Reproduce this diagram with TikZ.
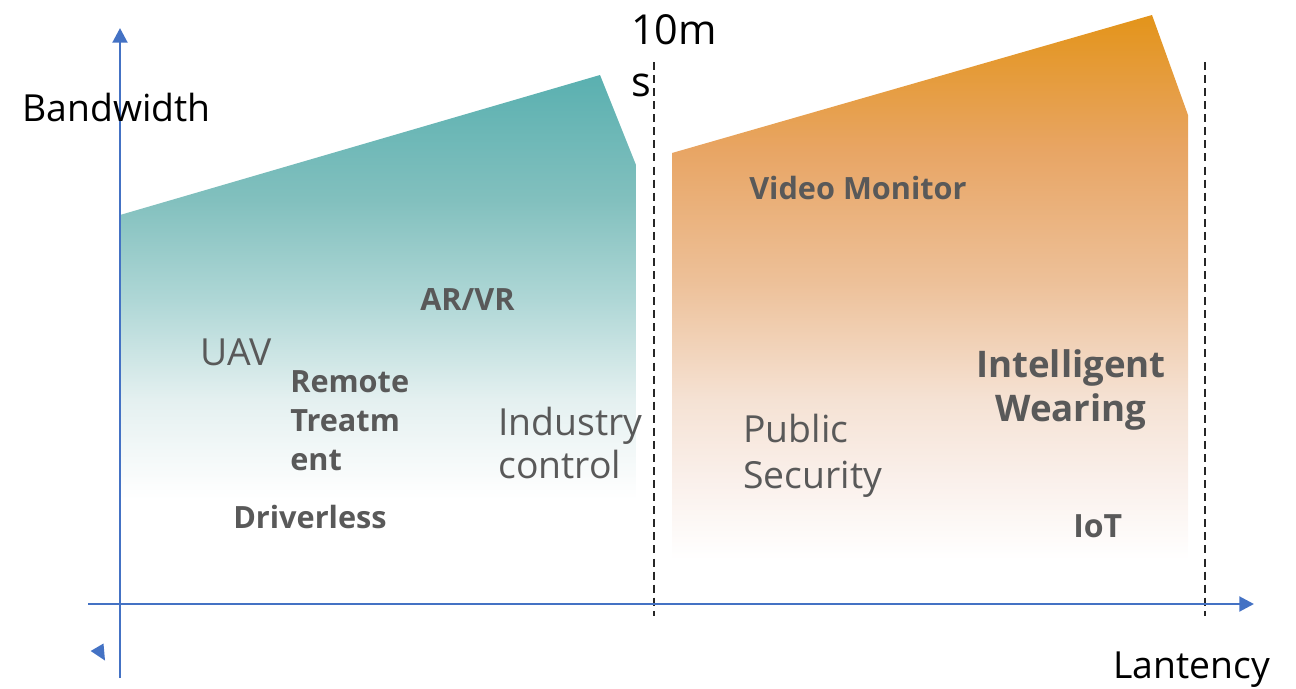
\documentclass[tikz,border=0pt]{standalone}
\usepackage{fontspec}
\setmainfont{Open Sans}
\usetikzlibrary{arrows.meta}

\definecolor{axisblue}{HTML}{4472C4}
\definecolor{labelgray}{HTML}{595959}

% colour stops of the two fading regions (top to bottom)
\definecolor{tealA}{RGB}{90,176,176}
\definecolor{tealB}{RGB}{130,192,190}
\definecolor{tealC}{RGB}{175,215,214}
\definecolor{tealD}{RGB}{228,240,240}
\definecolor{tealE}{RGB}{250,252,252}
\definecolor{orangeA}{RGB}{227,148,26}
\definecolor{orangeB}{RGB}{232,165,100}
\definecolor{orangeC}{RGB}{237,192,152}
\definecolor{orangeD}{RGB}{245,226,212}
\definecolor{orangeE}{RGB}{250,240,235}

% the path's bounding box spans 25bp (bottom) to 75bp (top)
\pgfdeclareverticalshading{tealfade}{100bp}{%
  color(0bp)=(white); color(25bp)=(white); color(27.4bp)=(tealE);
  color(36.8bp)=(tealD); color(48.5bp)=(tealC); color(60.3bp)=(tealB);
  color(75bp)=(tealA); color(100bp)=(tealA)}
\pgfdeclareverticalshading{orangefade}{100bp}{%
  color(0bp)=(white); color(27.2bp)=(white); color(34.2bp)=(orangeE);
  color(41.2bp)=(orangeD); color(51.75bp)=(orangeC); color(63.2bp)=(orangeB);
  color(75bp)=(orangeA); color(100bp)=(orangeA)}

\tikzset{
  axisline/.style={draw=axisblue, line width=2.2pt,
    -{Triangle[length=11pt,width=11pt]}},
  divider/.style={draw=black!85, line width=1.7pt, dash pattern=on 6pt off 3.8pt},
  axislabel/.style={anchor=base west, inner sep=0pt, align=left,
    font=\fontsize{28}{34}\selectfont, text=black},
  plainlabel/.style={anchor=base west, inner sep=0pt, align=left, text=labelgray},
  boldlabel/.style={anchor=base west, inner sep=0pt, align=left, text=labelgray,
    font=\bfseries\fontsize{23}{29}\selectfont},
}

\begin{document}
\begin{tikzpicture}[x=0.75pt, y=-0.75pt]
  \useasboundingbox (0,0) rectangle (1296,689);

  % bandwidth regions, fading out towards the latency axis
  \shade[shading=tealfade]
    (120,215) -- (600,75) -- (636,165) -- (636,500) -- (120,500) -- cycle;
  \shade[shading=orangefade]
    (672,153) -- (1152,15) -- (1188,115) -- (1188,585) -- (672,585) -- cycle;

  % 10 ms boundaries
  \coordinate (d1top) at (654,62);
  \coordinate (d1bot) at (654,616);
  \coordinate (d2top) at (1205,62);
  \coordinate (d2bot) at (1205,616);
  \draw[divider] (d1top) -- (d1bot);
  \draw[divider] (d2top) -- (d2bot);

  % axes
  \coordinate (yfoot) at (120,678);
  \coordinate (ytip) at (120,28);
  \coordinate (xfoot) at (88,604);
  \coordinate (xtip) at (1254,604);
  \draw[axisline] (yfoot) -- (ytip);
  \draw[axisline] (xfoot) -- (xtip);
  \fill[axisblue] (90.7,651) -- (103.5,643.5) -- (105,660.5) -- cycle;

  % axis labels (multi-line nodes sit on the baseline of their last line)
  \node[axislabel] (bw) at (22,121) {Bandwidth};
  \node[axislabel] (lat) at (1113,678) {Lantency};
  \node[axislabel, font=\fontsize{31}{39}\selectfont] (tenms) at (631,96) {10m\\s};

  % applications
  \node[boldlabel] (video) at (749,199) {Video Monitor};
  \node[boldlabel] (arvr) at (420,310) {AR/VR};
  \node[plainlabel, font=\fontsize{28}{34}\selectfont] (uav) at (200,365) {UAV};
  \node[boldlabel] (remote) at (290,470) {Remote\\Treatm\\ent};
  \node[plainlabel, font=\fontsize{28}{32}\selectfont] (industry) at (498,478) {Industry\\control};
  \node[boldlabel] (driverless) at (233,528) {Driverless};
  \node[plainlabel, font=\fontsize{28}{34}\selectfont] (public) at (743,488) {Public\\Security};
  \node[boldlabel, align=center, font=\bfseries\fontsize{27.5}{33}\selectfont, anchor=base]
    (wearing) at (1071,421) {Intelligent\\Wearing};
  \node[boldlabel, font=\bfseries\fontsize{24}{29}\selectfont] (iot) at (1073,537) {IoT};
\end{tikzpicture}
\end{document}
